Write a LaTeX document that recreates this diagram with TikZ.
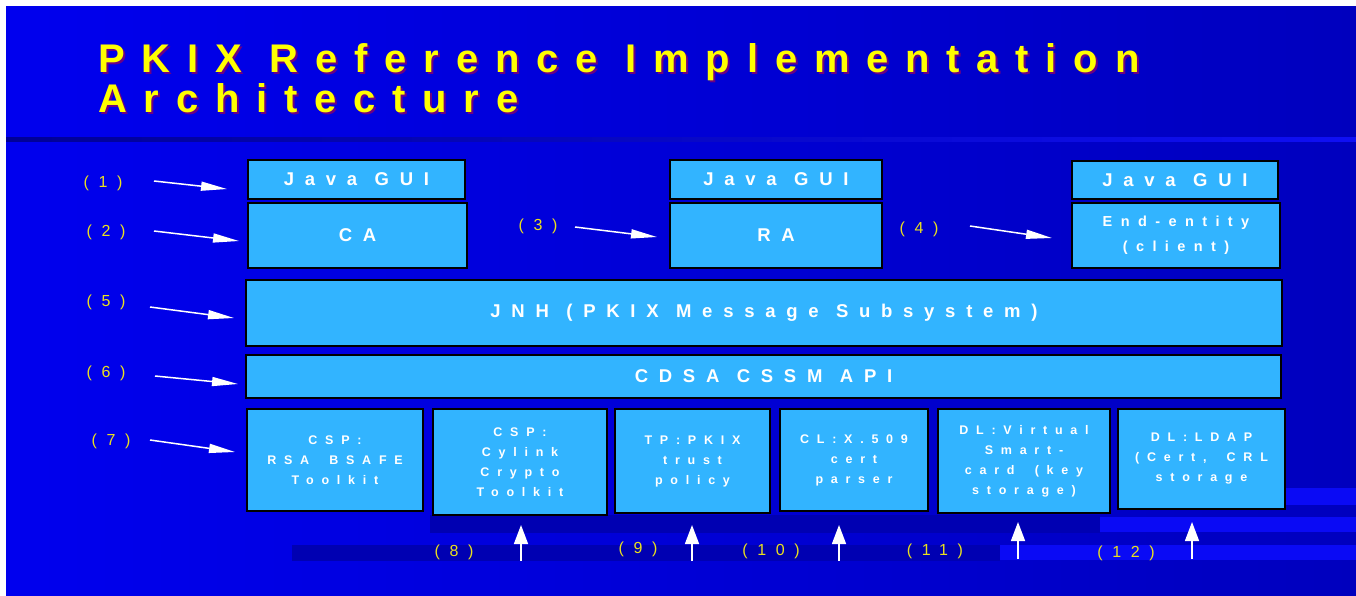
\documentclass[tikz,border=0pt]{standalone}
\usepackage{fontspec}
\setmainfont{Liberation Sans}
\newfontfamily\titlefont[LetterSpace=42]{Liberation Sans}
\newfontfamily\boxfont[LetterSpace=58,WordSpace=1.1]{Liberation Sans}
\newfontfamily\smallboxfont[LetterSpace=62,WordSpace=1.8]{Liberation Sans}
\newfontfamily\labfont[LetterSpace=60]{Liberation Sans}
\usetikzlibrary{arrows.meta}
\definecolor{bgL}{RGB}{0,0,238}
\definecolor{bgR}{RGB}{0,0,190}
\definecolor{bandDark}{RGB}{0,0,178}
\definecolor{bandLight}{RGB}{10,10,245}
\definecolor{boxblue}{RGB}{50,180,255}
\definecolor{titleyellow}{RGB}{255,255,0}
\definecolor{titleshadow}{RGB}{110,0,130}
\definecolor{labyellow}{RGB}{235,225,30}
\begin{document}
\begin{tikzpicture}[x=1pt,y=-1pt,
  box/.style={draw=black, line width=2pt, fill=boxblue, inner sep=0pt, outer sep=0pt,
    text=white, align=center, font=\boxfont\bfseries\fontsize{18.5}{22}\selectfont},
  eebox/.style={box, font=\boxfont\bfseries\fontsize{14.5}{25}\selectfont},
  smallbox/.style={box, font=\smallboxfont\bfseries\fontsize{12.5}{20}\selectfont},
  lab/.style={text=labyellow, inner sep=0pt, font=\labfont\fontsize{16}{16}\selectfont},
  titletext/.style={anchor=base west, inner sep=0pt, font=\titlefont\bfseries\fontsize{40}{40}\selectfont},
  sidearrow/.style={draw=white, line width=1.5pt, -{Triangle[length=26pt,width=9pt]}},
  uparrow/.style={draw=white, line width=1.5pt, -{Triangle[length=19pt,width=14pt]}}
]
\useasboundingbox (0,0) rectangle (1356,595);
\fill[white] (0,0) rectangle (1356,595);
\shade[left color=bgL, right color=bgR] (6,6) rectangle (1356,595);
% title rule
\shade[left color={rgb,255:red,0;green,0;blue,150}, right color={rgb,255:red,15;green,15;blue,245}] (6,137) rectangle (1356,141);
% decorative bands
\fill[bandDark] (430,515) rectangle (1100,533);
\fill[bandLight] (1100,517) rectangle (1356,532);
\fill[bandDark] (292,545) rectangle (1000,561);
\fill[bandLight] (1000,545) rectangle (1356,560);
\fill[bandLight] (1285,488) rectangle (1356,505);

% title
\node[titletext, text=titleshadow] (t1s) at (100,74) {PKIX Reference Implementation};
\node[titletext, text=titleyellow] (t1) at (98,72) {PKIX Reference Implementation};
\node[titletext, text=titleshadow] (t2s) at (100,114) {Architecture};
\node[titletext, text=titleyellow] (t2) at (98,112) {Architecture};

% boxes
\node[box, minimum width=217, minimum height=39] (gui1) at (356.5,179.5) {Java GUI};
\node[box, minimum width=219, minimum height=65] (ca) at (357.5,235.5) {CA};
\node[box, minimum width=212, minimum height=39] (gui2) at (776,179.5) {Java GUI};
\node[box, minimum width=212, minimum height=65] (ra) at (776,235.5) {RA};
\node[box, minimum width=206, minimum height=38] (gui3) at (1175,180) {Java GUI};
\node[eebox, minimum width=208, minimum height=65] (ee) at (1176,235.5) {End-entity\\(client)};
\node[box, minimum width=1036, minimum height=66] (jnh) at (764,313) {JNH (PKIX Message Subsystem)};
\node[box, minimum width=1035, minimum height=43] (cdsa) at (763.5,376.5) {CDSA CSSM API};
\node[smallbox, minimum width=176, minimum height=102] (rsa) at (335,460) {CSP:\\RSA BSAFE\\Toolkit};
\node[smallbox, minimum width=174, minimum height=106] (cyl) at (520,462) {CSP:\\Cylink\\Crypto\\Toolkit};
\node[smallbox, minimum width=155, minimum height=104] (tp) at (692.5,461) {TP:PKIX\\trust\\policy};
\node[smallbox, minimum width=148, minimum height=102] (cl) at (854,460) {CL:X.509\\cert\\parser};
\node[smallbox, minimum width=172, minimum height=104] (dlv) at (1024,461) {DL:Virtual\\Smart-\\card (key\\storage)};
\node[smallbox, minimum width=167, minimum height=100] (dll) at (1201.5,459) {DL:LDAP\\(Cert, CRL\\storage};

% labels
\node[lab] (l1) at (103,183) {(1)};
\node[lab] (l2) at (106,232) {(2)};
\node[lab] (l3) at (538,226) {(3)};
\node[lab] (l4) at (919,229) {(4)};
\node[lab] (l5) at (106,302) {(5)};
\node[lab] (l6) at (106,373) {(6)};
\node[lab] (l7) at (111,441) {(7)};
\node[lab] (l8) at (454,552) {(8)};
\node[lab] (l9) at (638,549) {(9)};
\node[lab] (l10) at (771,551) {(10)};
\node[lab] (l11) at (935,551) {(11)};
\node[lab] (l12) at (1126,553) {(12)};

% side arrows
\coordinate (a1s) at (154,181); \coordinate (a1e) at (227,189);
\coordinate (a2s) at (154,231); \coordinate (a2e) at (239,241);
\coordinate (a3s) at (575,227); \coordinate (a3e) at (657,237);
\coordinate (a4s) at (970,226); \coordinate (a4e) at (1052,238);
\coordinate (a5s) at (150,307); \coordinate (a5e) at (234,318);
\coordinate (a6s) at (155,376); \coordinate (a6e) at (238,384);
\coordinate (a7s) at (150,440); \coordinate (a7e) at (235,452);
\draw[sidearrow] (a1s) -- (a1e);
\draw[sidearrow] (a2s) -- (a2e);
\draw[sidearrow] (a3s) -- (a3e);
\draw[sidearrow] (a4s) -- (a4e);
\draw[sidearrow] (a5s) -- (a5e);
\draw[sidearrow] (a6s) -- (a6e);
\draw[sidearrow] (a7s) -- (a7e);

% up arrows
\coordinate (u8) at (521,561);
\coordinate (u9) at (692,561);
\coordinate (u10) at (839,561);
\coordinate (u11) at (1018,559);
\coordinate (u12) at (1192,559);
\draw[uparrow, shorten >=10pt] (u8) -- (u8 |- cyl.south);
\draw[uparrow, shorten >=12pt] (u9) -- (u9 |- tp.south);
\draw[uparrow, shorten >=14pt] (u10) -- (u10 |- cl.south);
\draw[uparrow, shorten >=9pt] (u11) -- (u11 |- dlv.south);
\draw[uparrow, shorten >=13pt] (u12) -- (u12 |- dll.south);
\end{tikzpicture}
\end{document}
